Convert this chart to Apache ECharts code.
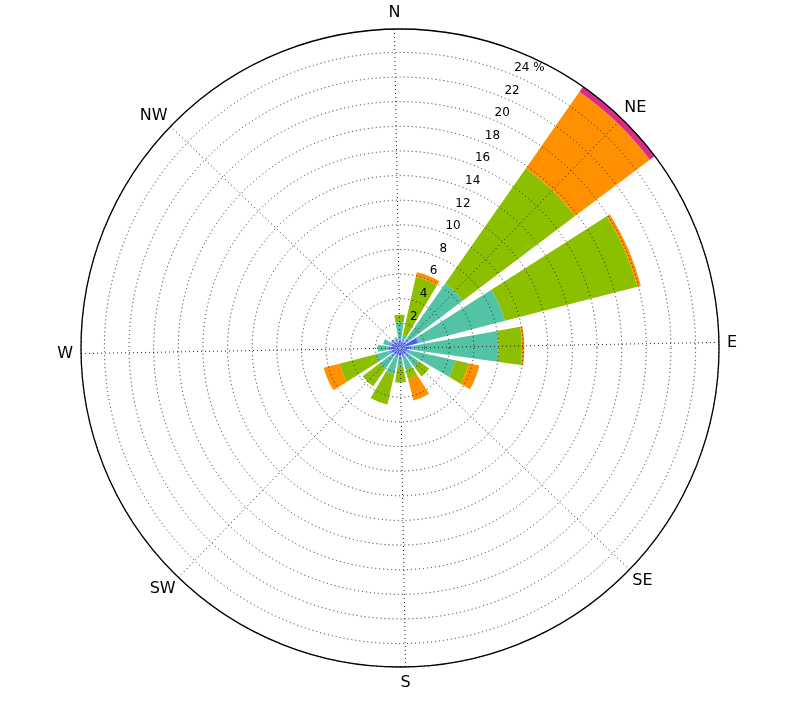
<!DOCTYPE html>
<html>
<head>
<meta charset="utf-8">
<script src="https://cdn.jsdelivr.net/npm/echarts@6/dist/echarts.min.js"></script>
<style>
html,body{margin:0;padding:0;background:#fff;}
#chart{width:800px;height:707px;}
</style>
</head>
<body>
<div id="chart"></div>
<script>
// Wind directions (16 sectors, clockwise from North)
var directions = ['N','NNE','NE','ENE','E','ESE','SE','SSE','S','SSW','SW','WSW','W','WNW','NW','NNW'];
// Frequency (%) per speed bin (stacked outward)
var bin0 = [0.5,0.5,0.6,1.5,0.8,0.6,0.6,0.6,0.6,0.6,0.6,0.7,0.8,0.7,0.6,0.5];
var bin1 = [0.3,0.3,0.3,0.2,0.3,0.3,0.3,0.3,0.3,0.3,0.3,0.3,0.3,0.3,0.3,0.3];
var bin2 = [1.3,0.3,5.5,7.1,6.9,3.7,1.0,0.9,0.6,1.3,1.2,1.0,0.7,0.4,0.0,0.1];
var bin3 = [0.6,4.8,11.4,11.1,1.9,1.1,1.0,0.8,1.3,2.5,1.7,3.1,0.0,0.0,0.0,0.0];
var bin4 = [0.0,0.4,7.6,0.3,0.2,0.9,0.0,1.8,0.0,0.0,0.0,1.3,0.0,0.0,0.0,0.0];
var bin5 = [0.0,0.0,0.5,0.0,0.0,0.0,0.0,0.0,0.0,0.0,0.0,0.0,0.0,0.0,0.0,0.0];
var binColors = ['#4a5ee8','#6b9ef0','#52c3a5','#8cbf00','#ff9100','#dc2a8a'];
// Axis ticks
var compassAngles = [0,45,90,135,180,225,270,315];
var compassNames = ['N','NE','E','SE','S','SW','W','NW'];
var rTickStep = 2;
var rTickMaxLabel = 24;
var rMax = 25.9;

var rot = 1; // slight rotation of the whole plot (degrees, counter-clockwise)
var center = [400, 348];
var radius = 319;
var gridStyle = {color:'#222', width:1, type:[1,3]};

var bins = [bin0,bin1,bin2,bin3,bin4,bin5];
var series = bins.map(function(b,i){
  return {
    type:'bar', coordinateSystem:'polar', polarIndex:0, stack:'ws',
    data:b, barCategoryGap:'20%', itemStyle:{color:binColors[i]},
    silent:true, animation:false
  };
});

var chart = echarts.init(document.getElementById('chart'), null, {renderer:'canvas'});
chart.setOption({
  animation:false,
  backgroundColor:'#fff',
  polar:[
    {center:center, radius:radius},
    {center:center, radius:radius},
    {center:center, radius:radius}
  ],
  angleAxis:[
    {polarIndex:0, type:'category', data:directions, startAngle:90+rot+11.25, clockwise:true,
     boundaryGap:true, show:false},
    {polarIndex:1, type:'value', min:0, max:360, interval:45, startAngle:90+rot, clockwise:true, z:10,
     axisLine:{show:true, lineStyle:{color:'#000', width:1.3}},
     axisTick:{show:false},
     splitLine:{show:true, lineStyle:gridStyle},
     axisLabel:{show:true, margin:4, color:'#000', fontSize:16, fontFamily:'DejaVu Sans',
       rich:{
         c:{padding:[4,4,4,4], color:'#000', fontSize:16, fontFamily:'DejaVu Sans'},
         d:{padding:[0,0,0,0], color:'#000', fontSize:16, fontFamily:'DejaVu Sans'}
       },
       formatter:function(v){
         var k=compassAngles.indexOf(v);
         if(k<0) return '';
         return (k%2===0 ? '{c|' : '{d|') + compassNames[k] + '}';
       }}},
    {polarIndex:2, type:'value', min:0, max:360, startAngle:66.5, clockwise:true, show:false}
  ],
  radiusAxis:[
    {polarIndex:0, type:'value', min:0, max:rMax, show:false},
    {polarIndex:1, type:'value', min:0, max:rMax, interval:rTickStep, z:10,
     axisLine:{show:false}, axisTick:{show:false}, axisLabel:{show:false},
     splitLine:{show:true, lineStyle:gridStyle}},
    {polarIndex:2, type:'value', min:0, max:rMax, interval:rTickStep, z:11,
     axisLine:{show:false}, axisTick:{show:false}, splitLine:{show:false},
     axisLabel:{show:true, margin:0, align:'center', verticalAlign:'middle',
       padding:[0,0,18,8], color:'#000', fontSize:12, fontFamily:'DejaVu Sans',
       rich:{h:{color:'rgba(0,0,0,0)', fontSize:12, fontFamily:'DejaVu Sans'}},
       formatter:function(v){
         if(v<=0 || v>rTickMaxLabel+0.01) return '';
         if(Math.abs(v-rTickMaxLabel)<0.01) return '{h|% }'+v+' %';
         return String(v);
       }}}
  ],
  series:series
});
</script>
</body>
</html>
